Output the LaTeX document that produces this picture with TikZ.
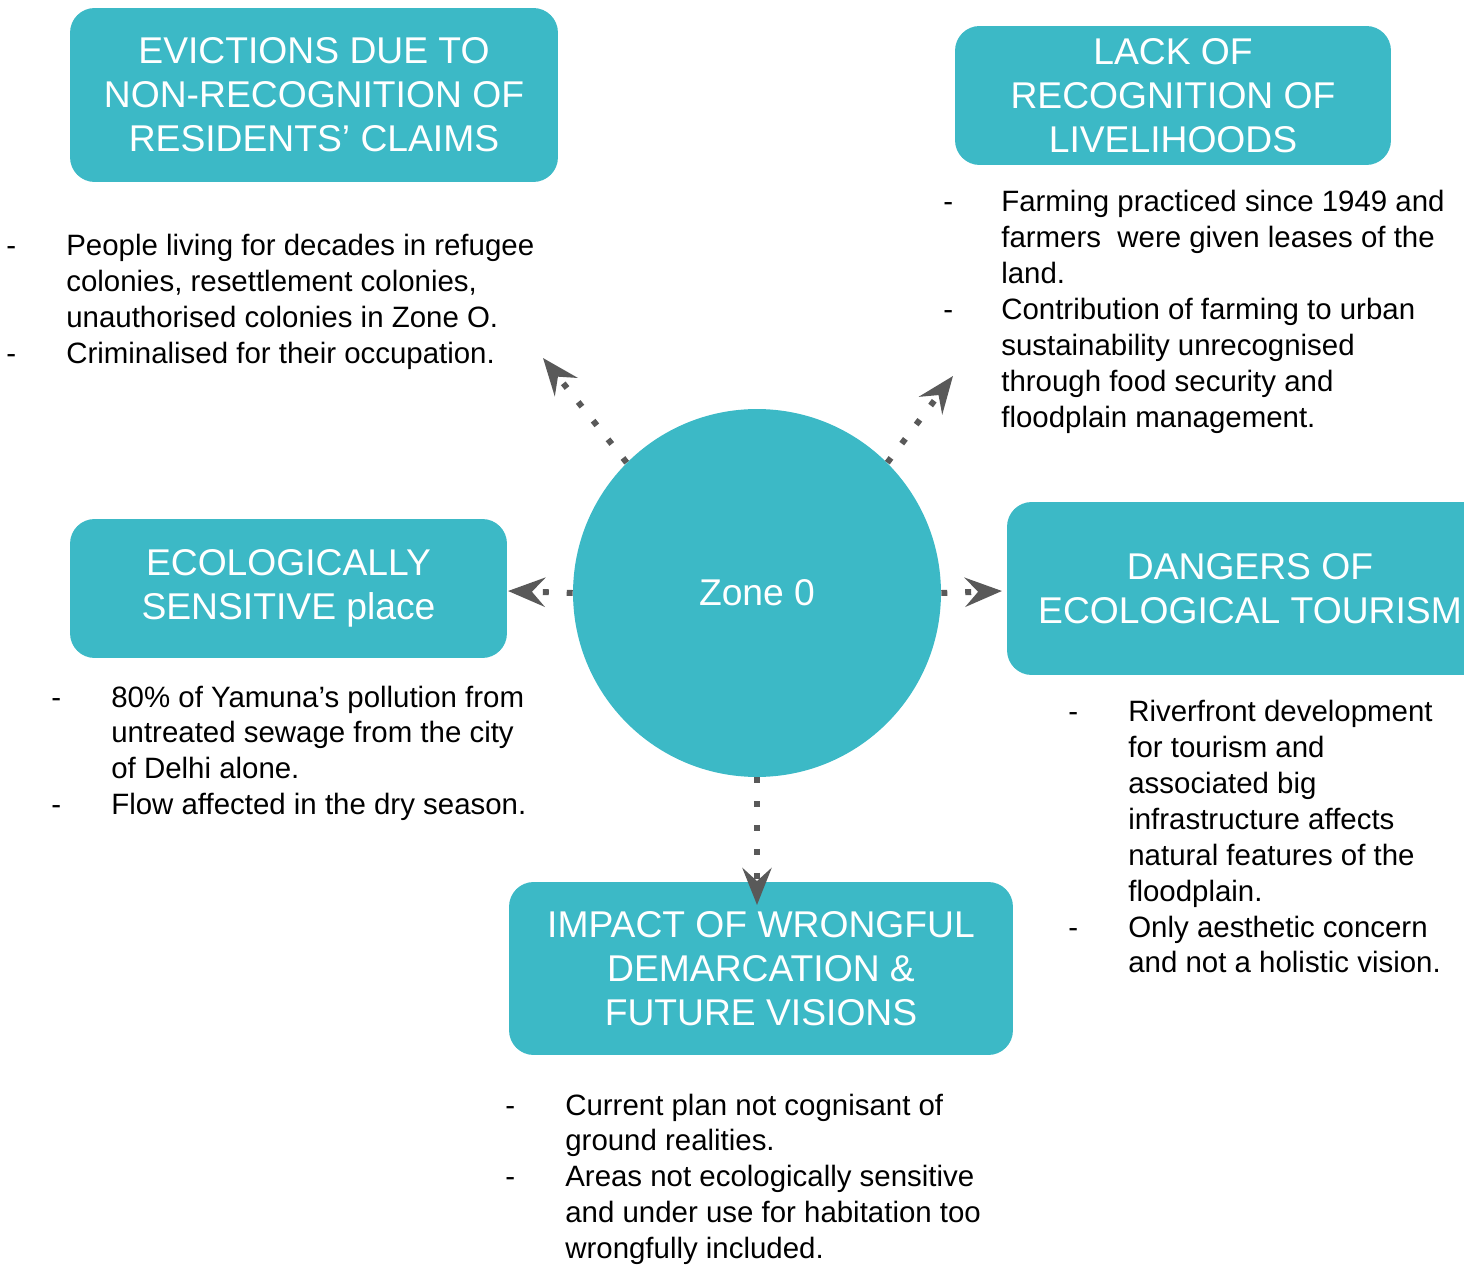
\documentclass[tikz,border=0pt]{standalone}
\usepackage{fontspec}
\setmainfont{Liberation Sans}
\usepackage{tikz}
\usetikzlibrary{positioning,calc,arrows.meta}
\usepackage{xcolor}
\definecolor{teal1}{HTML}{3CB9C6}
\definecolor{arrowgray}{HTML}{595959}

\begin{document}
\begin{tikzpicture}[x=0.02cm,y=-0.02cm,
    heading/.style={rectangle,rounded corners=14pt,fill=teal1,text=white,align=center,inner sep=0pt,
        font=\fontsize{21.2}{25}\selectfont},
    notes/.style={anchor=base west,inner sep=0pt,font=\fontsize{16.75}{20.4}\selectfont},
    spoke/.style={draw=arrowgray,line width=3.4pt,dash pattern=on 3.4pt off 10.2pt,
        -{Stealth[length=21pt,width=16.5pt,inset=7.4pt]}}]
\useasboundingbox (0,0) rectangle (1464,1266);
\clip (0,0) rectangle (1464,1266);

% centre circle
\node[circle,fill=teal1,text=white,minimum size=7.36cm,inner sep=0pt,
      font=\fontsize{21.2}{25}\selectfont] (zone) at (757,593) {Zone 0};

% headings
\node[heading,minimum width=9.76cm,minimum height=3.48cm] (evict) at (314,95)
    {EVICTIONS DUE TO\\NON-RECOGNITION OF\\RESIDENTS’ CLAIMS};
\node[heading,minimum width=8.72cm,minimum height=2.78cm] (livelihood) at (1173,95.5)
    {LACK OF\\RECOGNITION OF\\LIVELIHOODS};
\node[heading,minimum width=8.74cm,minimum height=2.78cm] (ecology) at (288.5,588.5)
    {ECOLOGICALLY\\SENSITIVE place};
\node[heading,minimum width=9.72cm,minimum height=3.46cm] (tourism) at (1250,588.5)
    {DANGERS OF\\ECOLOGICAL TOURISM};
\node[heading,minimum width=10.08cm,minimum height=3.46cm] (impact) at (761,968.5)
    {IMPACT OF WRONGFUL\\DEMARCATION \&\\FUTURE VISIONS};

% bullet notes
\node[notes] (evictnotes) at (6,256) {\begin{tabular}[t]{@{}p{1.2cm}@{}l@{}}
    - & People living for decades in refugee\\
      & colonies, resettlement colonies,\\
      & unauthorised colonies in Zone O.\\
    - & Criminalised for their occupation.
\end{tabular}};
\node[notes] (livelinotes) at (943,212) {\begin{tabular}[t]{@{}p{1.16cm}@{}l@{}}
    - & Farming practiced since 1949 and\\
      & farmers\ \ were given leases of the\\
      & land.\\
    - & Contribution of farming to urban\\
      & sustainability unrecognised\\
      & through food security and\\
      & floodplain management.
\end{tabular}};
\node[notes] (ecolnotes) at (51,707) {\begin{tabular}[t]{@{}p{1.2cm}@{}l@{}}
    - & 80\% of Yamuna’s pollution from\\
      & untreated sewage from the city\\
      & of Delhi alone.\\
    - & Flow affected in the dry season.
\end{tabular}};
\node[notes] (tournotes) at (1068,722) {\begin{tabular}[t]{@{}p{1.2cm}@{}l@{}}
    - & Riverfront development\\
      & for tourism and\\
      & associated big\\
      & infrastructure affects\\
      & natural features of the\\
      & floodplain.\\
    - & Only aesthetic concern\\
      & and not a holistic vision.
\end{tabular}};
\node[notes] (impactnotes) at (505,1115) {\begin{tabular}[t]{@{}p{1.2cm}@{}l@{}}
    - & Current plan not cognisant of\\
      & ground realities.\\
    - & Areas not ecologically sensitive\\
      & and under use for habitation too\\
      & wrongfully included.
\end{tabular}};

% arrow ends
\coordinate (tipNW) at (543,358);
\coordinate (tipNE) at (953,376);
\coordinate (tipW) at (508,591);
\coordinate (tipE) at (1002,591);
\coordinate (tipS) at (757,905);

\draw[spoke] (zone.135) -- (tipNW);
\draw[spoke] (zone.45) -- (tipNE);
\draw[spoke] (zone.west) -- (tipW);
\draw[spoke] (zone.east) -- (tipE);
\draw[spoke] (zone.south) -- (tipS);
\end{tikzpicture}
\end{document}
